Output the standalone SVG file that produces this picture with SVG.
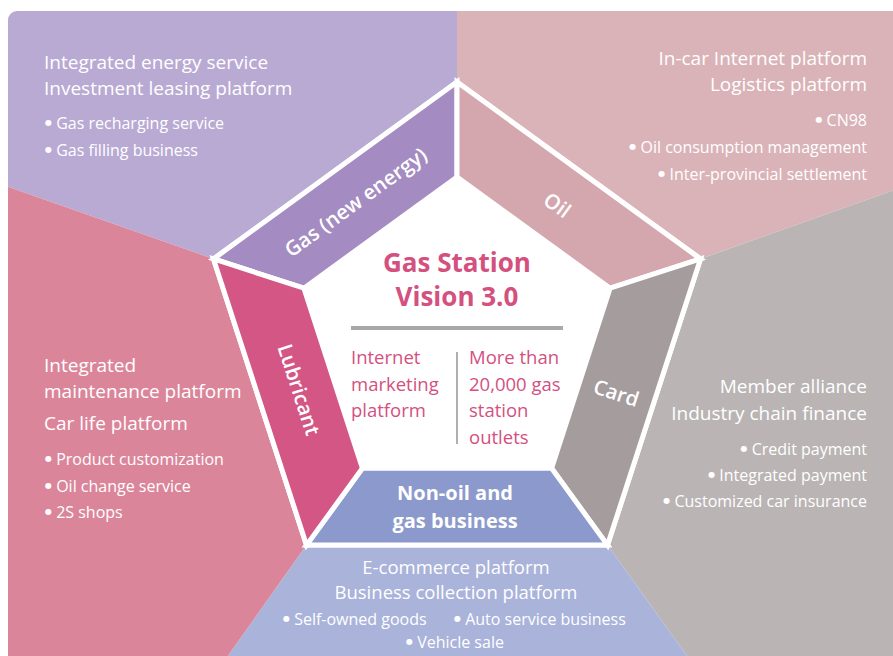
<svg xmlns="http://www.w3.org/2000/svg" width="893" height="656" viewBox="0 0 893 656">
  <defs>
    <clipPath id="frame">
      <rect x="8" y="11" width="900" height="660" rx="9" ry="9"/>
    </clipPath>
    <style>
      text { font-family: "Open Sans", "Liberation Sans", sans-serif; }
      .head { fill: #ffffff; font-size: 19px; }
      .item { fill: #ffffff; font-size: 16px; }
      .b { font-family: "DejaVu Sans", sans-serif; font-size: 8px; }
      .seg { fill: #ffffff; font-size: 20.5px; font-weight: 600; }
      .segshape { stroke: #ffffff; stroke-width: 5; stroke-linejoin: miter; }
      .ctr { fill: #d4507f; font-size: 18.5px; }
      .title { fill: #d4507f; font-size: 26px; font-weight: 700; }
      .end { text-anchor: end; }
      .mid { text-anchor: middle; }
    </style>
  </defs>

  <rect width="893" height="656" fill="#ffffff"/>

  <g id="sectors" clip-path="url(#frame)">
    <polygon id="sector-gas" points="0,0 457,0 457,82 213.5,258.9 0,184" fill="#b9aad3"/>
    <polygon id="sector-oil" points="457,0 900,0 900,188 700.5,258.9 457,82" fill="#dab3b8"/>
    <polygon id="sector-card" points="900,188 700.5,258.9 607.5,545.1 690,660 900,660" fill="#bab4b4"/>
    <polygon id="sector-nonoil" points="306.5,545.1 607.5,545.1 690,660 225,660" fill="#aab3da"/>
    <polygon id="sector-lubricant" points="0,184 213.5,258.9 306.5,545.1 225,660 0,660" fill="#db859b"/>
  </g>

  <g id="pentagon">
    <polygon points="457,82 700.5,258.9 607.5,545.1 306.5,545.1 213.5,258.9" fill="#ffffff" stroke="#ffffff" stroke-width="5" stroke-linejoin="miter"/>
    <g id="node-gas">
      <polygon class="segshape" points="213.5,258.9 457,82 457,177 303.9,288.2" fill="#a48bc1"/>
      <text class="seg mid" transform="translate(360,208) rotate(-36)">Gas (new energy)</text>
    </g>
    <g id="node-oil">
      <polygon class="segshape" points="457,82 700.5,258.9 610.1,288.2 457,177" fill="#d4a7ae"/>
      <text class="seg mid" transform="translate(553,211) rotate(36)">Oil</text>
    </g>
    <g id="node-card">
      <polygon class="segshape" points="700.5,258.9 607.5,545.1 551.6,468.3 610.1,288.2" fill="#a59c9d"/>
      <text class="seg mid" transform="translate(614,400) rotate(18)">Card</text>
    </g>
    <g id="node-nonoil">
      <polygon class="segshape" points="607.5,545.1 306.5,545.1 362.4,468.3 551.6,468.3" fill="#8b99cc"/>
      <text class="seg mid" x="455" y="500" style="font-size:20px;font-weight:700">Non-oil and</text>
      <text class="seg mid" x="455" y="528" style="font-size:20px;font-weight:700">gas business</text>
    </g>
    <g id="node-lubricant">
      <polygon class="segshape" points="306.5,545.1 213.5,258.9 303.9,288.2 362.4,468.3" fill="#d45684"/>
      <text class="seg mid" transform="translate(292,392) rotate(72)">Lubricant</text>
    </g>
    <g id="node-center">
      <polygon points="457,177 610.1,288.2 551.6,468.3 362.4,468.3 303.9,288.2" fill="#ffffff"/>
      <text class="title mid" x="457" y="272">Gas Station</text>
      <text class="title mid" x="457" y="306">Vision 3.0</text>
      <line x1="351" y1="328" x2="563" y2="328" stroke="#a8a8a8" stroke-width="4"/>
      <line x1="457" y1="352" x2="457" y2="444" stroke="#b0b0b0" stroke-width="2"/>
      <text class="ctr" x="351" y="364">Internet</text>
      <text class="ctr" x="351" y="391">marketing</text>
      <text class="ctr" x="351" y="417">platform</text>
      <text class="ctr" x="469" y="364">More than</text>
      <text class="ctr" x="469" y="391">20,000 gas</text>
      <text class="ctr" x="469" y="417">station</text>
      <text class="ctr" x="469" y="444">outlets</text>
    </g>
  </g>

  <g id="texts">
    <g id="text-gas">
      <text class="head" x="44" y="69">Integrated energy service</text>
      <text class="head" x="44" y="95">Investment leasing platform</text>
      <text class="item" x="45" y="129"><tspan class="b" dy="-4">●</tspan><tspan dy="4"> Gas recharging service</tspan></text>
      <text class="item" x="45" y="156"><tspan class="b" dy="-4">●</tspan><tspan dy="4"> Gas filling business</tspan></text>
    </g>
    <g id="text-oil">
      <text class="head end" x="867" y="65">In-car Internet platform</text>
      <text class="head end" x="867" y="91">Logistics platform</text>
      <text class="item end" x="867" y="126"><tspan class="b" dy="-4">●</tspan><tspan dy="4"> CN98</tspan></text>
      <text class="item end" x="867" y="153"><tspan class="b" dy="-4">●</tspan><tspan dy="4"> Oil consumption management</tspan></text>
      <text class="item end" x="867" y="180"><tspan class="b" dy="-4">●</tspan><tspan dy="4"> Inter-provincial settlement</tspan></text>
    </g>
    <g id="text-lubricant">
      <text class="head" x="44" y="372">Integrated</text>
      <text class="head" x="44" y="398">maintenance platform</text>
      <text class="head" x="44" y="430">Car life platform</text>
      <text class="item" x="45" y="465"><tspan class="b" dy="-4">●</tspan><tspan dy="4"> Product customization</tspan></text>
      <text class="item" x="45" y="492"><tspan class="b" dy="-4">●</tspan><tspan dy="4"> Oil change service</tspan></text>
      <text class="item" x="45" y="518"><tspan class="b" dy="-4">●</tspan><tspan dy="4"> 2S shops</tspan></text>
    </g>
    <g id="text-card">
      <text class="head end" x="867" y="393">Member alliance</text>
      <text class="head end" x="867" y="420">Industry chain finance</text>
      <text class="item end" x="867" y="455"><tspan class="b" dy="-4">●</tspan><tspan dy="4"> Credit payment</tspan></text>
      <text class="item end" x="867" y="481"><tspan class="b" dy="-4">●</tspan><tspan dy="4"> Integrated payment</tspan></text>
      <text class="item end" x="867" y="507"><tspan class="b" dy="-4">●</tspan><tspan dy="4"> Customized car insurance</tspan></text>
    </g>
    <g id="text-nonoil">
      <text class="head mid" x="456" y="574" style="font-size:18.5px">E-commerce platform</text>
      <text class="head mid" x="456" y="599" style="font-size:18.5px">Business collection platform</text>
      <text class="item" x="283" y="625"><tspan class="b" dy="-4">●</tspan><tspan dy="4"> Self-owned goods</tspan></text>
      <text class="item" x="454" y="625"><tspan class="b" dy="-4">●</tspan><tspan dy="4"> Auto service business</tspan></text>
      <text class="item" x="406" y="648"><tspan class="b" dy="-4">●</tspan><tspan dy="4"> Vehicle sale</tspan></text>
    </g>
  </g>
</svg>
